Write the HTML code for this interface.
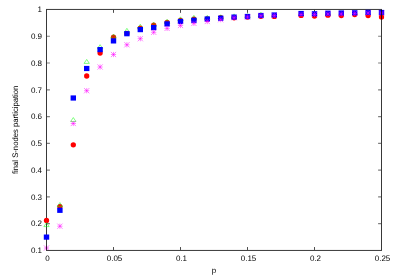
<!DOCTYPE html>
<html><head><meta charset="utf-8"><title>plot</title>
<style>
html,body{margin:0;padding:0;background:#fff;}
body{width:393px;height:275px;overflow:hidden;}
svg{display:block;}
text{font-family:"Liberation Sans",sans-serif;font-size:8px;fill:#000;text-rendering:geometricPrecision;}
</style></head><body>
<svg width="393" height="275" viewBox="0 0 393 275">
<defs><filter id="g" filterUnits="userSpaceOnUse" x="0" y="0" width="393" height="275"><feOffset dx="0" dy="0"/></filter></defs>
<rect width="393" height="275" fill="#fff"/>

<g fill="none" stroke="#f0f" stroke-width="0.5"><path d="M43.90 248.0h5.2M46.50 245.40v5.2M43.90 245.40l5.2 5.2M43.90 250.60l5.2 -5.2"/></g>
<g stroke="#000" stroke-width="1" fill="none">
<path stroke-opacity="0.78" d="M46.5 8.95V250.95M47.0 250.45H381.0M47.0 9.45H381.0"/>
<g stroke-opacity="0.5" stroke-width="1.2">
<path d="M47.0 223.67H49.9M381.0 223.67H378.1"/>
<path d="M47.0 196.89H49.9M381.0 196.89H378.1"/>
<path d="M47.0 170.12H49.9M381.0 170.12H378.1"/>
<path d="M47.0 143.34H49.9M381.0 143.34H378.1"/>
<path d="M47.0 116.56H49.9M381.0 116.56H378.1"/>
<path d="M47.0 89.78H49.9M381.0 89.78H378.1"/>
<path d="M47.0 63.01H49.9M381.0 63.01H378.1"/>
<path d="M47.0 36.23H49.9M381.0 36.23H378.1"/>
<path stroke-width="1" stroke-opacity="0.7" d="M113.50 249.95V247.05M113.50 9.95V12.85"/>
<path stroke-width="1" stroke-opacity="0.7" d="M180.50 249.95V247.05M180.50 9.95V12.85"/>
<path stroke-width="1" stroke-opacity="0.7" d="M247.50 249.95V247.05M247.50 9.95V12.85"/>
<path stroke-width="1" stroke-opacity="0.7" d="M314.50 249.95V247.05M314.50 9.95V12.85"/>
</g></g>
<g fill="#f00">
<circle cx="46.50" cy="220.4" r="2.65"/>
<circle cx="59.90" cy="206.6" r="2.65"/>
<circle cx="73.30" cy="144.8" r="2.65"/>
<circle cx="86.70" cy="76.0" r="2.65"/>
<circle cx="100.10" cy="53.0" r="2.65"/>
<circle cx="113.50" cy="37.2" r="2.65"/>
<circle cx="126.90" cy="33.4" r="2.65"/>
<circle cx="140.30" cy="28.1" r="2.65"/>
<circle cx="153.70" cy="25.1" r="2.65"/>
<circle cx="167.10" cy="22.5" r="2.65"/>
<circle cx="180.50" cy="20.4" r="2.65"/>
<circle cx="193.90" cy="19.2" r="2.65"/>
<circle cx="207.30" cy="19.0" r="2.65"/>
<circle cx="220.70" cy="17.7" r="2.65"/>
<circle cx="234.10" cy="17.8" r="2.65"/>
<circle cx="247.50" cy="17.0" r="2.65"/>
<circle cx="260.90" cy="16.3" r="2.65"/>
<circle cx="274.30" cy="16.4" r="2.65"/>
<circle cx="301.10" cy="15.4" r="2.65"/>
<circle cx="314.50" cy="16.1" r="2.65"/>
<circle cx="327.90" cy="15.2" r="2.65"/>
<circle cx="341.30" cy="15.6" r="2.65"/>
<circle cx="354.70" cy="14.6" r="2.65"/>
<circle cx="368.10" cy="15.6" r="2.65"/>
<circle cx="381.50" cy="16.9" r="2.65"/>
</g>
<g fill="none" stroke="#0f0" stroke-width="0.5" stroke-linejoin="round">
<path d="M46.50 222.65L49.15 226.60H43.85Z"/>
<path d="M59.90 202.55L62.55 206.50H57.25Z"/>
<path d="M73.30 117.55L75.95 121.50H70.65Z"/>
<path d="M86.70 59.45L89.35 63.40H84.05Z"/>
<path d="M100.10 44.65L102.75 48.60H97.45Z"/>
<path d="M113.50 34.15L116.15 38.10H110.85Z"/>
<path d="M126.90 28.35L129.55 32.30H124.25Z"/>
<path d="M140.30 24.25L142.95 28.20H137.65Z"/>
<path d="M153.70 22.35L156.35 26.30H151.05Z"/>
<path d="M167.10 19.35L169.75 23.30H164.45Z"/>
<path d="M180.50 16.85L183.15 20.80H177.85Z"/>
<path d="M193.90 15.35L196.55 19.30H191.25Z"/>
<path d="M207.30 15.35L209.95 19.30H204.65Z"/>
<path d="M220.70 14.75L223.35 18.70H218.05Z"/>
<path d="M234.10 13.85L236.75 17.80H231.45Z"/>
<path d="M247.50 13.55L250.15 17.50H244.85Z"/>
<path d="M260.90 12.25L263.55 16.20H258.25Z"/>
</g>
<g fill="#00f">
<rect x="43.80" y="234.50" width="5.4" height="5.2"/>
<rect x="57.20" y="207.70" width="5.4" height="5.2"/>
<rect x="70.60" y="95.40" width="5.4" height="5.2"/>
<rect x="84.00" y="65.90" width="5.4" height="5.2"/>
<rect x="97.40" y="47.00" width="5.4" height="5.2"/>
<rect x="110.80" y="38.30" width="5.4" height="5.2"/>
<rect x="124.20" y="31.10" width="5.4" height="5.2"/>
<rect x="137.60" y="27.00" width="5.4" height="5.2"/>
<rect x="151.00" y="25.00" width="5.4" height="5.2"/>
<rect x="164.40" y="21.30" width="5.4" height="5.2"/>
<rect x="177.80" y="18.90" width="5.4" height="5.2"/>
<rect x="191.20" y="17.70" width="5.4" height="5.2"/>
<rect x="204.60" y="16.40" width="5.4" height="5.2"/>
<rect x="218.00" y="15.60" width="5.4" height="5.2"/>
<rect x="231.40" y="14.50" width="5.4" height="5.2"/>
<rect x="244.80" y="13.90" width="5.4" height="5.2"/>
<rect x="258.20" y="12.90" width="5.4" height="5.2"/>
<rect x="271.60" y="12.40" width="5.4" height="5.2"/>
<rect x="298.40" y="10.90" width="5.4" height="5.2"/>
<rect x="311.80" y="11.20" width="5.4" height="5.2"/>
<rect x="325.20" y="10.60" width="5.4" height="5.2"/>
<rect x="338.60" y="10.40" width="5.4" height="5.2"/>
<rect x="352.00" y="10.20" width="5.4" height="5.2"/>
<rect x="365.40" y="9.80" width="5.4" height="5.2"/>
<rect x="378.80" y="9.90" width="5.4" height="5.2"/>
</g>
<g fill="none" stroke="#f0f" stroke-width="0.5">
<path d="M57.30 226.2h5.2M59.90 223.60v5.2M57.30 223.60l5.2 5.2M57.30 228.80l5.2 -5.2"/>
<path d="M70.70 123.5h5.2M73.30 120.90v5.2M70.70 120.90l5.2 5.2M70.70 126.10l5.2 -5.2"/>
<path d="M84.10 90.7h5.2M86.70 88.10v5.2M84.10 88.10l5.2 5.2M84.10 93.30l5.2 -5.2"/>
<path d="M97.50 67.0h5.2M100.10 64.40v5.2M97.50 64.40l5.2 5.2M97.50 69.60l5.2 -5.2"/>
<path d="M110.90 54.5h5.2M113.50 51.90v5.2M110.90 51.90l5.2 5.2M110.90 57.10l5.2 -5.2"/>
<path d="M124.30 44.8h5.2M126.90 42.20v5.2M124.30 42.20l5.2 5.2M124.30 47.40l5.2 -5.2"/>
<path d="M137.70 38.7h5.2M140.30 36.10v5.2M137.70 36.10l5.2 5.2M137.70 41.30l5.2 -5.2"/>
<path d="M151.10 32.3h5.2M153.70 29.70v5.2M151.10 29.70l5.2 5.2M151.10 34.90l5.2 -5.2"/>
<path d="M164.50 28.4h5.2M167.10 25.80v5.2M164.50 25.80l5.2 5.2M164.50 31.00l5.2 -5.2"/>
<path d="M177.90 25.5h5.2M180.50 22.90v5.2M177.90 22.90l5.2 5.2M177.90 28.10l5.2 -5.2"/>
<path d="M191.30 23.4h5.2M193.90 20.80v5.2M191.30 20.80l5.2 5.2M191.30 26.00l5.2 -5.2"/>
<path d="M204.70 21.5h5.2M207.30 18.90v5.2M204.70 18.90l5.2 5.2M204.70 24.10l5.2 -5.2"/>
<path d="M218.10 19.7h5.2M220.70 17.10v5.2M218.10 17.10l5.2 5.2M218.10 22.30l5.2 -5.2"/>
<path d="M231.50 17.7h5.2M234.10 15.10v5.2M231.50 15.10l5.2 5.2M231.50 20.30l5.2 -5.2"/>
<path d="M244.90 17.0h5.2M247.50 14.40v5.2M244.90 14.40l5.2 5.2M244.90 19.60l5.2 -5.2"/>
<path d="M258.30 15.7h5.2M260.90 13.10v5.2M258.30 13.10l5.2 5.2M258.30 18.30l5.2 -5.2"/>
<path d="M271.70 15.6h5.2M274.30 13.00v5.2M271.70 13.00l5.2 5.2M271.70 18.20l5.2 -5.2"/>
<path d="M298.50 14.5h5.2M301.10 11.90v5.2M298.50 11.90l5.2 5.2M298.50 17.10l5.2 -5.2"/>
<path d="M311.90 14.5h5.2M314.50 11.90v5.2M311.90 11.90l5.2 5.2M311.90 17.10l5.2 -5.2"/>
<path d="M325.30 14.0h5.2M327.90 11.40v5.2M325.30 11.40l5.2 5.2M325.30 16.60l5.2 -5.2"/>
<path d="M338.70 14.0h5.2M341.30 11.40v5.2M338.70 11.40l5.2 5.2M338.70 16.60l5.2 -5.2"/>
<path d="M352.10 13.4h5.2M354.70 10.80v5.2M352.10 10.80l5.2 5.2M352.10 16.00l5.2 -5.2"/>
<path d="M365.50 13.0h5.2M368.10 10.40v5.2M365.50 10.40l5.2 5.2M365.50 15.60l5.2 -5.2"/>
<path d="M378.90 13.0h5.2M381.50 10.40v5.2M378.90 10.40l5.2 5.2M378.90 15.60l5.2 -5.2"/>
</g>
<path d="M381.5 8.95V250.95" stroke="#000" stroke-opacity="0.78" stroke-width="1" fill="none"/>
<g filter="url(#g)"><g text-anchor="end">
<text x="42.0" y="253.20">0.1</text>
<text x="42.0" y="226.42">0.2</text>
<text x="42.0" y="199.64">0.3</text>
<text x="42.0" y="172.87">0.4</text>
<text x="42.0" y="146.09">0.5</text>
<text x="42.0" y="119.31">0.6</text>
<text x="42.0" y="92.53">0.7</text>
<text x="42.0" y="65.76">0.8</text>
<text x="42.0" y="38.98">0.9</text>
<text x="42.0" y="12.20">1</text>
</g>
<g text-anchor="middle">
<text x="47.50" y="261.1">0</text>
<text x="114.50" y="261.1">0.05</text>
<text x="181.50" y="261.1">0.1</text>
<text x="248.50" y="261.1">0.15</text>
<text x="315.50" y="261.1">0.2</text>
<text x="382.50" y="261.1">0.25</text>
<text x="214" y="272.7">p</text>
<text transform="translate(18 129.85) rotate(-90)" x="0" y="0" textLength="88.4" lengthAdjust="spacingAndGlyphs">final S-nodes participation</text>
</g>
</g></svg></body></html>
